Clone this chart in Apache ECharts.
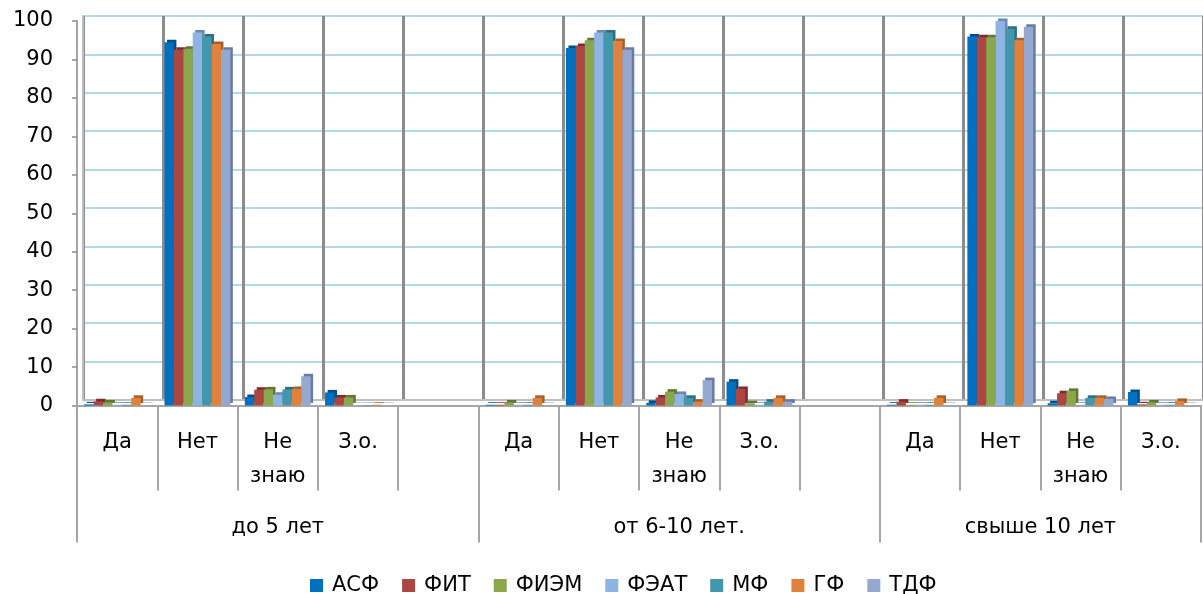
<!DOCTYPE html>
<html>
<head>
<meta charset="utf-8">
<script src="https://cdn.jsdelivr.net/npm/echarts@6/dist/echarts.min.js"></script>
<style>
html,body{margin:0;padding:0;background:#fff;}
#c{width:1203px;height:594px;}
</style>
</head>
<body>
<div id="c"></div>
<script>
// ---- data ----
const groups = ['до 5 лет', 'от 6-10 лет.', 'свыше 10 лет'];
const answers = ['Да', 'Нет', 'Не\nзнаю', 'З.о.'];
const seriesNames = ['АСФ', 'ФИТ', 'ФИЭМ', 'ФЭАТ', 'МФ', 'ГФ', 'ТДФ'];
const yTicks = [0, 10, 20, 30, 40, 50, 60, 70, 80, 90, 100];
// values per series: [до 5: Да, Нет, Не знаю, З.о. | 6-10: ... | >10: ...]
const vASF  = [0.3, 94.5, 2.2, 3.4,   0.2, 93.0, 0.7, 6.2,   0.2, 96.0, 0.6, 3.5];
const vFIT  = [1.1, 92.5, 4.1, 2.1,   0.2, 93.5, 2.1, 4.3,   1.0, 95.8, 3.2, 0.3];
const vFIEM = [0.8, 92.8, 4.2, 2.1,   0.8, 95.0, 3.6, 0.6,   0.2, 95.8, 3.8, 0.8];
const vFEAT = [0.2, 97.0, 2.8, 0.1,   0.2, 97.0, 3.0, 0.2,   0.2, 100.0, 0.2, 0.2];
const vMF   = [0.2, 96.0, 4.2, 0.1,   0.2, 97.0, 2.0, 1.0,   0.2, 98.0, 2.0, 0.2];
const vGF   = [2.0, 94.0, 4.3, 0.2,   2.0, 94.8, 1.0, 2.0,   2.0, 95.0, 2.0, 1.2];
const vTDF  = [0.1, 92.5, 7.6, 0.1,   0.1, 92.5, 6.6, 1.0,   0.1, 98.5, 1.7, 0.1];
const seriesValues = [vASF, vFIT, vFIEM, vFEAT, vMF, vGF, vTDF];

// ---- styles ----
const colors = ['#0070C0', '#AC4642', '#8BA74C', '#8EB4E3', '#4397AD', '#E0823C', '#95A8D0'];
const sideColors = ['#004F8A', '#7A2E2C', '#617636', '#6888B5', '#2E6E80', '#A95F28', '#6A7BA3'];
const FONT = '"DejaVu Sans", sans-serif';
const FS = 21;

// build 14 slots: 4 answers + blank, 4 answers + blank, 4 answers
const xLabels = [];
groups.forEach((g, gi) => {
  answers.forEach(a => xLabels.push(a));
  if (gi < groups.length - 1) xLabels.push('');
});
const nSlots = xLabels.length;
function expand(vals) {
  const out = [];
  groups.forEach((g, gi) => {
    for (let k = 0; k < answers.length; k++) out.push(vals[gi * answers.length + k]);
    if (gi < groups.length - 1) out.push(null);
  });
  return out;
}
// group boundaries and centres in slot units
const groupBounds = [0];
const groupCenters = [];
{
  let s = 0;
  groups.forEach((g, gi) => {
    const w = answers.length + (gi < groups.length - 1 ? 1 : 0);
    groupCenters.push(s + (gi < groups.length - 1 ? w / 2 : answers.length / 2));
    s += w;
    groupBounds.push(s);
  });
}

const chart = echarts.init(document.getElementById('c'), null, {renderer: 'canvas'});
const option = {
  animation: false,
  backgroundColor: '#fff',
  textStyle: {fontFamily: FONT},
  legend: {
    data: seriesNames,
    top: 570,
    left: 305,
    icon: 'rect',
    itemWidth: 13,
    itemHeight: 13,
    itemGap: 23,
    textStyle: {fontFamily: FONT, fontSize: FS, color: '#000', padding: [0, 0, 0, 4]}
  },
  grid: [
    // front plane
    {left: 77, top: 21, width: 1124, height: 384.5, containLabel: false},
    // back wall (3D offset)
    {left: 83, top: 16, width: 1124, height: 384, containLabel: false}
  ],
  xAxis: [
    {
      type: 'category', gridIndex: 0, data: xLabels,
      axisLine: {show: true, lineStyle: {color: '#A6A6A6', width: 2}},
      axisTick: {show: true, interval: 0, length: 85, lineStyle: {color: '#A6A6A6', width: 2}},
      axisLabel: {interval: 0, margin: 20, fontSize: FS, lineHeight: 34, color: '#000', fontFamily: FONT},
      splitLine: {show: false}
    },
    {
      type: 'value', gridIndex: 0, min: 0, max: nSlots, position: 'bottom',
      axisLine: {show: false},
      axisTick: {show: true, customValues: groupBounds, length: 137, lineStyle: {color: '#A6A6A6', width: 2}},
      axisLabel: {
        customValues: groupCenters, margin: 112, fontSize: FS, color: '#000', fontFamily: FONT,
        formatter: v => {
          const i = groupCenters.indexOf(v);
          return i >= 0 ? groups[i] : '';
        }
      },
      splitLine: {show: false}
    },
    {
      type: 'category', gridIndex: 1, data: xLabels,
      axisLine: {show: true, lineStyle: {color: '#BFBFBF', width: 2}},
      axisTick: {show: false},
      axisLabel: {show: false},
      splitLine: {show: true, interval: 0, lineStyle: {color: '#8C8C8C', width: 3}}
    }
  ],
  yAxis: [
    {
      type: 'value', gridIndex: 0, min: yTicks[0], max: yTicks[yTicks.length - 1], interval: 10,
      axisLine: {show: true, lineStyle: {color: '#A6A6A6', width: 2}},
      axisTick: {show: true, length: 5, lineStyle: {color: '#8C8C8C', width: 1.5}},
      axisLabel: {fontSize: FS, color: '#000', margin: 24, fontFamily: FONT},
      splitLine: {show: false}
    },
    {
      type: 'value', gridIndex: 1, min: yTicks[0], max: yTicks[yTicks.length - 1], interval: 10,
      axisLine: {show: true, lineStyle: {color: '#BFBFBF', width: 2}},
      axisTick: {show: false},
      axisLabel: {show: false},
      splitLine: {show: true, lineStyle: {color: '#B0DCE6', width: 2}}
    }
  ],
  series: seriesNames.map((name, i) => ({
    name: name,
    type: 'bar',
    xAxisIndex: 0,
    yAxisIndex: 0,
    data: expand(seriesValues[i]),
    barGap: '0%',
    barCategoryGap: '18%',
    itemStyle: {
      color: colors[i],
      shadowColor: sideColors[i],
      shadowBlur: 0,
      shadowOffsetX: 2.5,
      shadowOffsetY: -2.5
    },
    emphasis: {disabled: true}
  }))
};
chart.setOption(option);
</script>
</body>
</html>
